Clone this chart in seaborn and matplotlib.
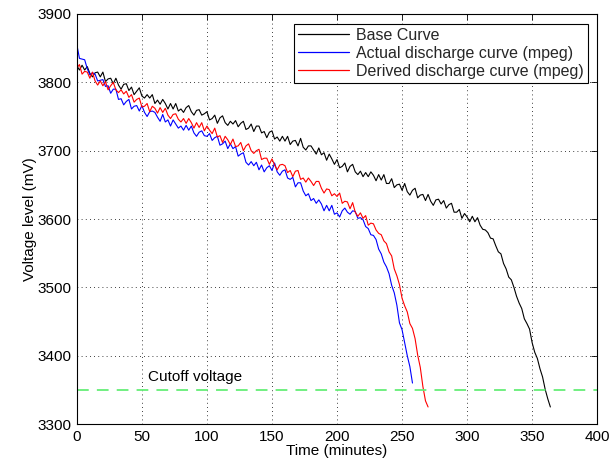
import numpy as np
import pandas as pd
import matplotlib
matplotlib.use('Agg')
import matplotlib.pyplot as plt
import seaborn as sns

# base curve, sampled every 2 minutes from t = 0
base_v = [
    3824, 3818, 3825, 3818, 3823, 3813, 3808, 3814, 3815, 3808,
    3815, 3801, 3805, 3806, 3798, 3806, 3796, 3790, 3797, 3798,
    3788, 3793, 3782, 3787, 3792, 3780, 3777, 3782, 3777, 3782,
    3769, 3774, 3768, 3775, 3769, 3761, 3769, 3761, 3769, 3758,
    3761, 3756, 3763, 3766, 3757, 3752, 3759, 3760, 3752, 3754,
    3757, 3745, 3747, 3752, 3740, 3748, 3751, 3741, 3737, 3743,
    3739, 3744, 3735, 3740, 3743, 3731, 3733, 3739, 3728, 3736,
    3736, 3726, 3728, 3719, 3727, 3729, 3717, 3720, 3714, 3721,
    3714, 3721, 3709, 3714, 3715, 3707, 3718, 3705, 3701, 3707,
    3707, 3701, 3695, 3704, 3694, 3697, 3686, 3695, 3688, 3680,
    3687, 3675, 3677, 3682, 3669, 3677, 3680, 3669, 3665, 3670,
    3662, 3668, 3662, 3669, 3664, 3656, 3665, 3657, 3665, 3652,
    3652, 3659, 3646, 3650, 3651, 3642, 3652, 3640, 3635, 3642,
    3645, 3631, 3635, 3636, 3627, 3636, 3626, 3620, 3628, 3629,
    3622, 3627, 3616, 3621, 3623, 3610, 3610, 3614, 3601, 3608,
    3603, 3596, 3604, 3596, 3602, 3591, 3585, 3584, 3580, 3572,
    3571, 3561, 3552, 3549, 3535, 3527, 3515, 3511, 3500, 3487,
    3477, 3469, 3454, 3447, 3439, 3419, 3405, 3396, 3381, 3369,
    3351, 3337, 3325,
]

# actual discharge curve (mpeg)
actual_v = [
    3855, 3835, 3834, 3833, 3820, 3811, 3814, 3812, 3802, 3803,
    3804, 3794, 3795, 3784, 3790, 3790, 3775, 3776, 3767, 3772,
    3775, 3761, 3765, 3766, 3758, 3766, 3756, 3750, 3757, 3758,
    3756, 3749, 3743, 3753, 3742, 3745, 3736, 3745, 3739, 3733,
    3736, 3730, 3737, 3730, 3736, 3726, 3721, 3727, 3729, 3722,
    3721, 3725, 3715, 3719, 3721, 3708, 3710, 3714, 3703, 3710,
    3703, 3706, 3692, 3695, 3697, 3683, 3679, 3684, 3678, 3683,
    3672, 3679, 3669, 3675, 3678, 3671, 3682, 3669, 3664, 3670,
    3672, 3660, 3658, 3661, 3647, 3653, 3653, 3641, 3634, 3637,
    3627, 3630, 3623, 3628, 3622, 3612, 3620, 3612, 3620, 3607,
    3609, 3603, 3612, 3616, 3610, 3607, 3612, 3611, 3601, 3602,
    3599, 3589, 3586, 3577, 3576, 3570, 3556, 3549, 3537, 3530,
    3520, 3503, 3492, 3474, 3448, 3438, 3419, 3400, 3384, 3360,
]

# derived discharge curve (mpeg)
derived_v = [
    3821, 3826, 3812, 3816, 3815, 3806, 3815, 3802, 3796, 3802,
    3795, 3801, 3789, 3795, 3800, 3789, 3785, 3789, 3783, 3787,
    3778, 3782, 3771, 3775, 3777, 3764, 3765, 3769, 3757, 3765,
    3762, 3755, 3763, 3756, 3762, 3752, 3747, 3753, 3754, 3746,
    3742, 3747, 3740, 3747, 3741, 3733, 3741, 3734, 3741, 3729,
    3736, 3730, 3725, 3733, 3720, 3722, 3712, 3721, 3716, 3709,
    3717, 3706, 3707, 3712, 3700, 3707, 3710, 3700, 3696, 3700,
    3702, 3687, 3689, 3689, 3680, 3688, 3679, 3672, 3679, 3680,
    3678, 3668, 3671, 3662, 3670, 3671, 3658, 3660, 3654, 3660,
    3655, 3649, 3655, 3655, 3645, 3638, 3644, 3643, 3634, 3637,
    3633, 3638, 3623, 3626, 3625, 3615, 3624, 3610, 3604, 3609,
    3601, 3605, 3591, 3594, 3593, 3584, 3579, 3577, 3568, 3564,
    3552, 3546, 3527, 3517, 3504, 3484, 3473, 3464, 3447, 3440,
    3425, 3401, 3383, 3355, 3334, 3325,
]

cutoff = 3350

df = pd.concat([
    pd.DataFrame({'t': np.arange(len(base_v)) * 2, 'v': base_v,
                  'curve': 'Base Curve'}),
    pd.DataFrame({'t': np.arange(len(actual_v)) * 2, 'v': actual_v,
                  'curve': 'Actual discharge curve (mpeg)'}),
    pd.DataFrame({'t': np.arange(len(derived_v)) * 2, 'v': derived_v,
                  'curve': 'Derived discharge curve (mpeg)'}),
])
palette = {'Base Curve': 'black',
           'Actual discharge curve (mpeg)': '#0000ff',
           'Derived discharge curve (mpeg)': '#ff0000'}

sns.set_theme(style='white')
plt.rcParams['font.family'] = ['Liberation Sans', 'DejaVu Sans']
plt.rcParams['font.size'] = 11

fig = plt.figure(figsize=(6.1, 4.66), dpi=100)
ax = fig.add_axes([0.126, 0.090, 0.853, 0.880])

sns.lineplot(data=df, x='t', y='v', hue='curve', palette=palette,
             estimator=None, sort=False, linewidth=0.8, ax=ax)
ax.axhline(cutoff, color='#66ee77', linewidth=1.3, dashes=(6.5, 4.5))
ax.text(55, 3363, 'Cutoff voltage', fontsize=11, color='black')

ax.set_xlim(0, 400)
ax.set_ylim(3300, 3900)
ax.set_xticks(range(0, 401, 50))
ax.set_yticks(range(3300, 3901, 100))
ax.grid(True, color='black', linestyle=(0, (1, 4)), linewidth=0.6)
ax.tick_params(direction='in', length=4, top=True, right=True,
               labelsize=11, colors='black', width=0.6, pad=4)
for s in ax.spines.values():
    s.set_color('black')
    s.set_linewidth(0.8)
ax.set_xlabel('Time (minutes)', fontsize=11, color='black', labelpad=0)
ax.set_ylabel('Voltage level (mV)', fontsize=11, color='black', labelpad=0)

leg = ax.legend(loc='upper right', fancybox=False, framealpha=1,
                edgecolor='black', fontsize=11.5, handlelength=3.2,
                labelspacing=0.2, borderaxespad=0.6, borderpad=0.25,
                handletextpad=0.4)
leg.get_frame().set_linewidth(0.8)
for line in leg.get_lines():
    line.set_linewidth(0.9)

fig.savefig('out.png', dpi=100)
